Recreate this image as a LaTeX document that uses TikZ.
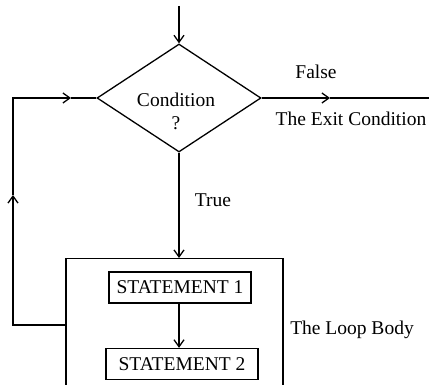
\documentclass[tikz,border=0pt]{standalone}
\usepackage{fontspec}
\setmainfont{Liberation Serif}
\usepackage{tikz}
\usetikzlibrary{arrows.meta}
\usetikzlibrary{shapes.geometric}

\begin{document}
\begin{tikzpicture}[x=1pt, y=-1pt, line width=1.3pt, >={Straight Barb[length=7pt,width=10pt]},
	font=\fontsize{19.5}{22}\selectfont,
	decision/.style={diamond, draw, minimum width=164pt, minimum height=108pt, inner sep=0pt},
	stmt/.style={rectangle, draw, minimum height=31pt, inner sep=0pt}]
	\useasboundingbox (0,0) rectangle (429,385);
	\clip (0,0) rectangle (429,385);
	% the test
	\node[decision] (cond) at (179,98) {};
	\node[align=center] (condtext) at (176,111) {Condition\\[1pt]?};
	% the loop body
	\node[draw, minimum width=217pt, minimum height=160pt, anchor=north, inner sep=0pt] (body) at (174.5,258) {};
	\node[stmt, minimum width=142pt] (s1) at (180,287.5) {STATEMENT 1};
	\node[stmt, minimum width=152pt] (s2) at (182,364) {STATEMENT 2};
	\coordinate (entry) at (179,6);
	\coordinate (exit) at (431,98);
	\coordinate (outmark) at (330,98);
	\coordinate (lb) at (13,325);
	\coordinate (lt) at (13,98);
	\coordinate (upmark) at (13,195);
	\coordinate (inmark) at (71,98);
	\draw[->] (entry) -- (cond.north);
	\draw[->] (cond.south) -- (cond.south |- body.north) node [pos=0.45, right=12pt] {True};
	\draw[->] (s1.south -| cond.south) -- (s2.north -| cond.south);
	\draw[->] (cond.east) -- (outmark);
	\draw (outmark) -- (exit);
	\draw[->] (body.west |- lb) -- (lb) -- (upmark);
	\draw[->] (upmark) -- (lt) -- (inmark);
	\draw (inmark) -- (cond.west);
	% labels
	\node (false) at (316,72) {False};
	\node (exitlabel) at (351,119) {The Exit Condition};
	\node (bodylabel) at (352,330) {The Loop Body};
\end{tikzpicture}
\end{document}
